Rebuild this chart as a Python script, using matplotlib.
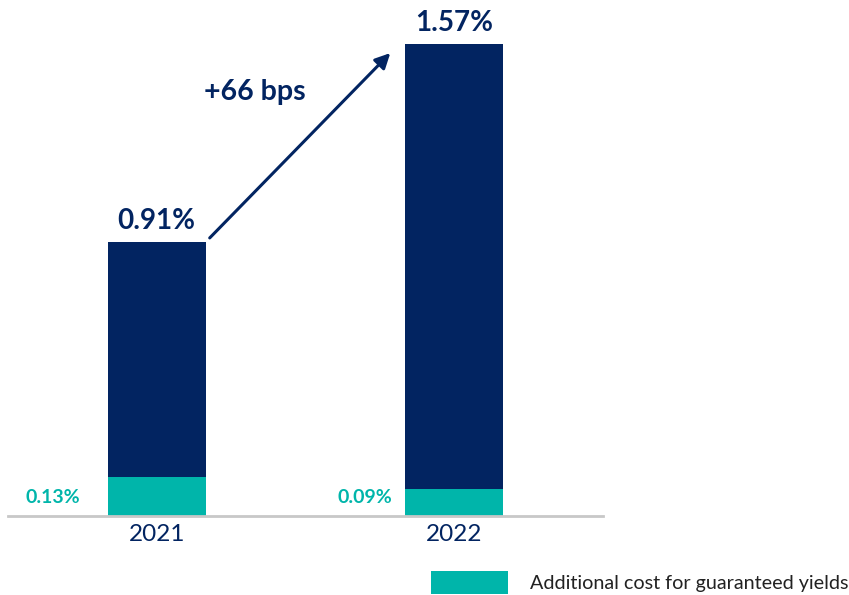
import matplotlib
matplotlib.use("Agg")
import matplotlib.pyplot as plt
import numpy as np

plt.rcParams['font.family'] = ['Lato', 'DejaVu Sans']

years = ["2021", "2022"]
totals = [0.91, 1.57]
guaranteed = [0.13, 0.09]
change_label = "+66 bps"
legend_label = "Additional cost for guaranteed yields"

navy = "#022461"
teal = "#00b5aa"

W, H = 849, 595
fig = plt.figure(figsize=(W / 100, H / 100), dpi=100)
ax = fig.add_axes([8 / W, (H - 516) / H, 595 / W, 516 / H])

x = np.arange(len(years))
rest = [t - g for t, g in zip(totals, guaranteed)]
width = 0.33
teal_bars = ax.bar(x, guaranteed, width, color=teal, label=legend_label)
ax.bar(x, rest, width, bottom=guaranteed, color=navy)

ax.set_xlim(-0.5, 1.5)
ax.set_ylim(0, 516 / 300.6)

for s in ["top", "right", "left"]:
    ax.spines[s].set_visible(False)
ax.spines["bottom"].set_color("#c8c8c8")
ax.spines["bottom"].set_linewidth(2)
ax.set_yticks([])
ax.set_xticks(x)
ax.set_xticklabels(years, fontsize=17.5, color=navy)
ax.tick_params(axis="x", length=0, pad=6)

# total labels above bars
for xi, t in zip(x, totals):
    ax.annotate(f"{t:.2f}%", (xi, t), xytext=(0, 6), textcoords="offset points",
                ha="center", va="bottom", fontsize=20, fontweight="bold", color=navy)

# guaranteed-yield labels left of bars
g_offsets = [-0.35, -0.30]
for xi, g, off in zip(x, guaranteed, g_offsets):
    ax.text(xi + off, 0.06, f"{g:.2f}%", ha="center", va="center",
            fontsize=14, fontweight="bold", color=teal)

# change arrow
ax.annotate("", xy=(0.785, 1.54), xytext=(0.178, 0.925),
            arrowprops=dict(arrowstyle="-|>,head_length=0.9,head_width=0.45",
                            color=navy, lw=2.2, shrinkA=0, shrinkB=0))
ax.text(0.329, 1.41, change_label, ha="center", va="center",
        fontsize=20.5, fontweight="bold", color=navy)

fig.legend(handles=[teal_bars], labels=[legend_label], loc="lower right",
           bbox_to_anchor=(0.999, 0.002), frameon=False, fontsize=14.2,
           handlelength=3.86, handleheight=1.37, handletextpad=1.12,
           borderpad=0, borderaxespad=0, labelcolor="#222222")

fig.savefig("out.png", dpi=100)
